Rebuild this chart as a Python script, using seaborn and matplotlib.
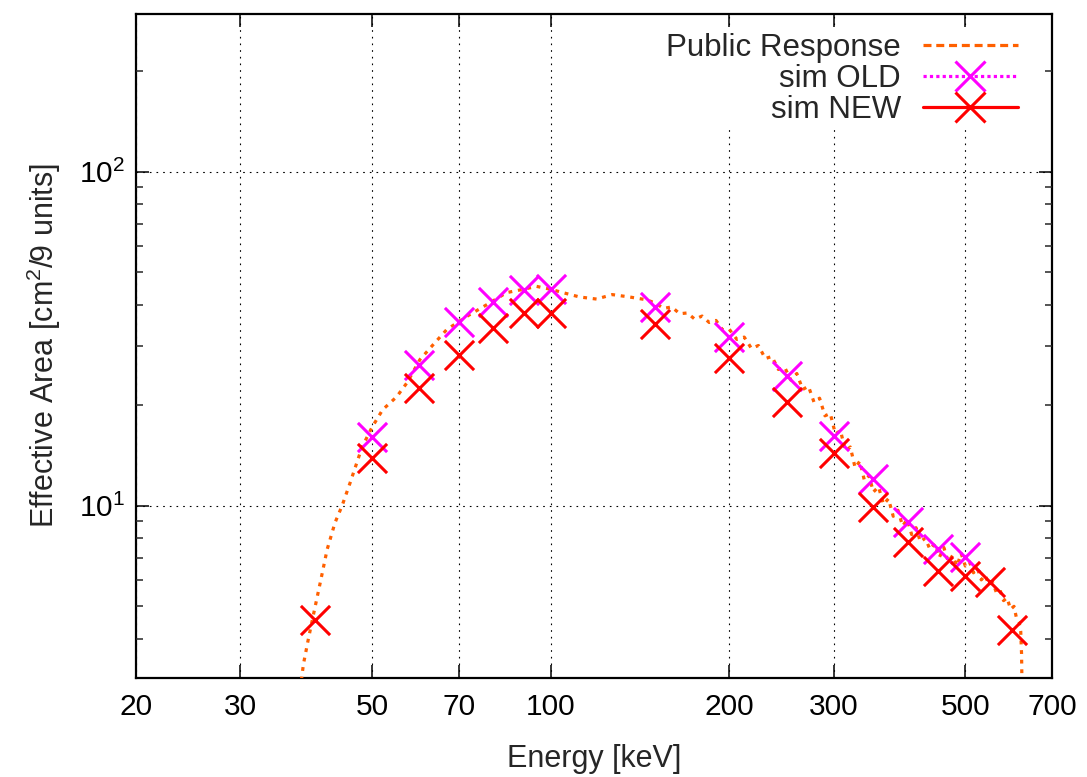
import matplotlib
matplotlib.use("Agg")
import matplotlib.pyplot as plt
import seaborn as sns
import pandas as pd
from matplotlib.lines import Line2D
from matplotlib.ticker import FixedLocator, FixedFormatter, LogLocator, NullFormatter, NullLocator

# ---------------- data ----------------
pub_energy = [38.0, 38.3, 39.0, 39.7, 40.9, 42.0, 43.3, 44.5, 45.9, 48.1, 50.0, 52.1, 55.0, 57.3,
              60.2, 63.3, 66.8, 72.2, 78.0, 84.3, 90.0, 94.7, 100, 104.8, 111.9, 119.5, 127, 135.8,
              145, 150, 155, 160, 165, 170, 175, 180, 185, 190, 195, 200, 206, 212, 218, 224, 230,
              236, 242, 248, 254, 260, 266, 272, 278, 284, 290, 296, 302, 308, 314, 320, 326, 332,
              338, 344, 350, 357, 364, 371, 378, 385, 392, 399, 406, 413, 420, 428, 436, 444, 452,
              460, 468, 476, 484, 492, 500, 508, 516, 524, 532, 540, 548, 556, 564, 572, 580, 588,
              596, 604, 610, 616, 620, 622, 623]
pub_area = [3.0, 3.35, 3.95, 4.6, 5.9, 7.4, 8.9, 10.0, 11.7, 15.0, 17.2, 19.4, 21.2, 23.4,
            27.4, 30.3, 33.7, 36.9, 40.0, 43.5, 44.5, 45.4, 44.5, 43.5, 42.2, 41.6, 42.9, 42.2,
            41.4, 40.5, 39.0, 39.4, 37.6, 37.8, 36.2, 37.0, 35.4, 35.9, 33.6, 33.8, 31.5, 32.0,
            29.6, 30.2, 27.6, 28.0, 25.6, 26.0, 23.8, 24.9, 22.3, 22.8, 20.4, 21.0, 18.6, 18.9,
            16.4, 16.8, 14.6, 15.0, 13.0, 13.6, 11.9, 12.3, 11.0, 11.4, 10.1, 10.5, 9.3, 9.7,
            8.7, 9.1, 8.2, 8.6, 7.8, 8.0, 7.4, 7.7, 7.0, 7.5, 6.8, 7.1, 6.6, 7.2, 6.6, 6.8, 6.3,
            6.5, 6.0, 6.2, 5.8, 5.9, 5.5, 5.6, 5.2, 5.3, 4.9, 5.0, 4.6, 4.5, 4.2, 3.6, 2.9]

sim_old_energy = [50, 60, 70, 80, 90, 100, 150, 200, 250, 300, 350, 400, 450, 500]
sim_old_area = [16.1, 26.4, 35.6, 40.8, 44.4, 44.7, 39.4, 32.1, 24.5, 16.2, 12.0, 8.95, 7.44, 7.04]

sim_new_energy = [40, 50, 60, 70, 80, 90, 100, 150, 200, 250, 300, 350, 400, 450, 500, 550, 600]
sim_new_area = [4.56, 13.9, 22.5, 28.3, 34.1, 37.8, 37.8, 35.1, 27.7, 20.5, 14.4, 9.9, 7.8,
                6.39, 6.17, 5.92, 4.25]

x_ticks = [20, 30, 50, 70, 100, 200, 300, 500, 700]
x_tick_labels = ["20", "30", "50", "70", "100", "200", "300", "500", "700"]
series_labels = ["Public Response", "sim OLD", "sim NEW"]

# ---------------- style ----------------
sns.set_theme(style="ticks")
plt.rcParams["font.family"] = ["Liberation Sans", "DejaVu Sans"]
plt.rcParams["mathtext.fontset"] = "custom"
plt.rcParams["mathtext.rm"] = "Liberation Sans"
plt.rcParams["mathtext.it"] = "Liberation Sans:italic"
plt.rcParams["mathtext.bf"] = "Liberation Sans:bold"

FS_LEG = 22.5
FS_TICK = 21.5
FS_LAB = 22
c_pub = "#ff6000"
c_old = "#ff00ff"
c_new = "#ff0000"

fig = plt.figure(figsize=(10.87, 7.77), dpi=100)
ax = fig.add_axes([136 / 1087, 1 - 678 / 777, (1052 - 136) / 1087, (678 - 14) / 777])

pub_df = pd.DataFrame({"E": pub_energy, "A": pub_area})
old_df = pd.DataFrame({"E": sim_old_energy, "A": sim_old_area})
new_df = pd.DataFrame({"E": sim_new_energy, "A": sim_new_area})

sns.lineplot(data=pub_df, x="E", y="A", sort=False, estimator=None, color=c_pub,
             linewidth=2.3, linestyle=(0, (1.2, 1.8)), ax=ax, legend=False, zorder=3)
sns.scatterplot(data=old_df, x="E", y="A", marker="x", s=21 ** 2, color=c_old,
                linewidth=2.2, ax=ax, legend=False, zorder=4)
sns.scatterplot(data=new_df, x="E", y="A", marker="x", s=21 ** 2, color=c_new,
                linewidth=2.2, ax=ax, legend=False, zorder=5)

ax.set_xscale("log")
ax.set_yscale("log")
ax.set_xlim(20, 700)
ax.set_ylim(3.05, 297)

ax.xaxis.set_major_locator(FixedLocator(x_ticks))
ax.xaxis.set_major_formatter(FixedFormatter(x_tick_labels))
ax.xaxis.set_minor_locator(NullLocator())
ax.yaxis.set_major_locator(LogLocator(base=10, numticks=10))
ax.yaxis.set_minor_locator(LogLocator(base=10, subs=range(2, 10), numticks=20))
ax.yaxis.set_minor_formatter(NullFormatter())

ax.tick_params(which="major", direction="in", length=9.5, width=1.1, top=True, right=True,
               labelsize=FS_TICK, colors="black")
ax.tick_params(which="minor", direction="in", length=5, width=1.1, top=True, right=True)
ax.tick_params(axis="x", which="major", pad=11)
ax.tick_params(axis="y", which="major", pad=8)

for sp in ax.spines.values():
    sp.set_linewidth(1.6)
    sp.set_color("black")

ax.grid(True, which="major", color="black", linestyle=(0, (1.5, 4.5)), linewidth=0.8)
ax.set_axisbelow(False)
for gl in ax.get_xgridlines() + ax.get_ygridlines():
    gl.set_zorder(1)

ax.set_xlabel("Energy [keV]", fontsize=FS_LAB, labelpad=16)
ax.set_ylabel("Effective Area [cm$^2$/9 units]", fontsize=FS_LAB, labelpad=11)

handles = [
    Line2D([], [], color=c_pub, linewidth=2.3, linestyle=(0, (2.5, 1.5))),
    Line2D([], [], color=c_old, linewidth=2.3, linestyle=(0, (1, 1)), marker="x",
           markersize=21, markeredgewidth=2.2),
    Line2D([], [], color=c_new, linewidth=2.3, linestyle="-", marker="x",
           markersize=21, markeredgewidth=2.2),
]
leg = ax.legend(handles, series_labels, loc="upper right", bbox_to_anchor=(0.968, 0.978),
                markerfirst=False, fontsize=FS_LEG, frameon=True, fancybox=False,
                edgecolor="none", facecolor="white", framealpha=1.0,
                handlelength=3.05, handletextpad=0.7, labelspacing=0.03, borderpad=0.15,
                borderaxespad=0)
leg.set_zorder(10)
for t in leg.get_texts():
    t.set_ha("right")

fig.savefig("out.png", dpi=100)
